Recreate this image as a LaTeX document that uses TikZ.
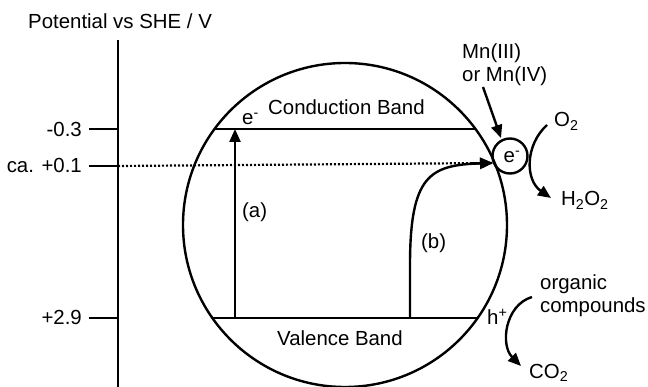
\documentclass[tikz,border=0pt]{standalone}
\usepackage{fontspec}
\setmainfont{Liberation Sans}
\usetikzlibrary{arrows.meta}
\begin{document}
\begin{tikzpicture}[x=1pt,y=-1pt,
  every node/.style={inner sep=0pt,font=\fontsize{20.4}{23}\selectfont},
  ln/.style={line width=2.4pt},
  arr/.style={line width=2.4pt,-{Triangle[length=13pt,width=11pt]}},
  dotline/.style={line width=2.2pt,dash pattern=on 2pt off 2pt}]
\useasboundingbox (0,0) rectangle (648,387);
% axis
\coordinate (axtop) at (118,40);
\coordinate (axbot) at (118,387);
\draw[ln] (axtop) -- (axbot);
\node[anchor=base west] (title) at (28,29) {Potential vs SHE / V};
% ticks
\coordinate (t1a) at (89,129); \coordinate (t1b) at (118,129);
\coordinate (t2a) at (89,166); \coordinate (t2b) at (118,166);
\coordinate (t3a) at (89,318); \coordinate (t3b) at (118,318);
\draw[ln] (t1a) -- (t1b);
\draw[ln] (t2a) -- (t2b);
\draw[ln] (t3a) -- (t3b);
\node[anchor=base east] (l1) at (82,137) {-0.3};
\node[anchor=base east] (l2) at (82,173) {ca. +0.1};
\node[anchor=base east] (l3) at (82,325) {+2.9};
% big circle
\coordinate (cc) at (345,225);
\draw[ln] (cc) circle[radius=162pt];
% bands
\coordinate (cb1) at (214.5,129); \coordinate (cb2) at (475.5,129);
\coordinate (vb1) at (212.5,318); \coordinate (vb2) at (477.5,318);
\draw[ln] (cb1) -- (cb2);
\draw[ln] (vb1) -- (vb2);
\node[anchor=base west] (cbl) at (268,115) {Conduction Band};
\node[anchor=base west] (vbl) at (277,345) {Valence Band};
\node[anchor=base west] (el) at (242,125) {e\textsuperscript{-}};
% small electron circle
\node[draw,circle,line width=2.4pt,minimum size=35pt] (ec) at (510,156) {};
\node (ect) at (512,157) {e\textsuperscript{-}};
% dotted line
\coordinate (dstart) at (118,166);
\coordinate (dend) at (493,163);
\draw[dotline] (dstart) -- (dend);
\draw[arr] (470,163.5) -- (dend);
% arrow (a)
\coordinate (a0) at (235,318); \coordinate (a1) at (235,129);
\draw[arr] (a0) -- (a1);
\node[anchor=west] (al) at (242,212) {(a)};
% arrow (b)
\coordinate (b0) at (410,318);
\coordinate (b1) at (410,265);
\draw[arr] (b0) -- (b1) .. controls (410,175) and (430,165) .. (dend);
\node[anchor=west] (bl) at (421,243) {(b)};
% Mn
\node[anchor=west,align=left] (mn) at (462,65) {Mn(III)\\or Mn(IV)};
\coordinate (mn0) at (483,87); \coordinate (mn1) at (501,138);
\draw[arr] (mn0) -- (mn1);
% O2 -> H2O2
\node[anchor=base west] (o2) at (554,127) {O\textsubscript{2}};
\node[anchor=base west] (h2o2) at (561,206) {H\textsubscript{2}O\textsubscript{2}};
\coordinate (o0) at (547,125); \coordinate (o1) at (551,198);
\draw[arr] (o0) .. controls (525,145) and (525,180) .. (o1);
% h+ and organics
\node[anchor=base west] (hp) at (487,325) {h\textsuperscript{+}};
\node[anchor=west,align=left] (org) at (540,296) {organic\\compounds};
\node[anchor=base west] (co2) at (529,378) {CO\textsubscript{2}};
\coordinate (g0) at (532,297); \coordinate (g1) at (521,366);
\draw[arr] (g0) .. controls (505,305) and (500,345) .. (g1);
\end{tikzpicture}
\end{document}
